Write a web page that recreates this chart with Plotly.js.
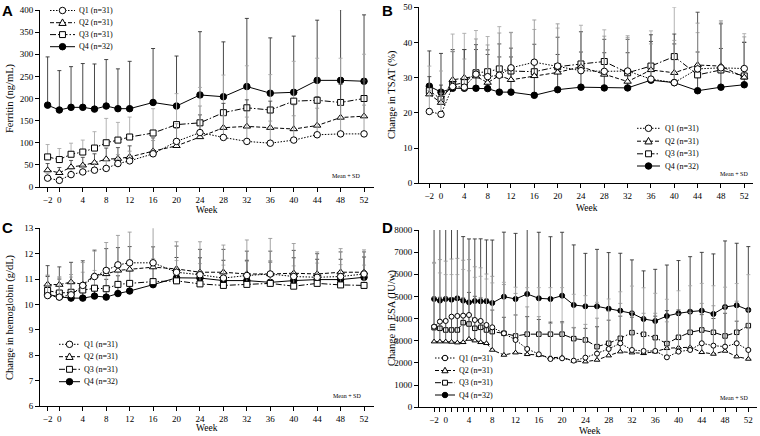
<!DOCTYPE html>
<html><head><meta charset="utf-8">
<script src="https://cdn.plot.ly/plotly-3.0.1.min.js"></script>
<style>html,body{margin:0;padding:0;background:#fff}#chart{width:760px;height:436px}</style>
</head><body><div id="chart"></div>
<script>
// ---------- data ----------
const weeks = [-2,0,2,4,6,8,10,12,16,20,24,28,32,36,40,44,48,52];
const weeksESA = [-2,-1,0,1,2,3,4,5,6,7,8,10,12,14,16,18,20,22,24,26,28,30,32,34,36,38,40,42,44,46,48,50,52];
const seriesNames = ['Q1 (n=31)','Q2 (n=31)','Q3 (n=31)','Q4 (n=32)'];

const ferritinQ1 = [20,15,28,34,38,42,53,59,75,103,123,112,103,99,106,118,120,120];
const ferritinQ2 = [38,32,45,49,55,63,64,68,81,93,113,134,137,134,131,139,157,160];
const ferritinQ3 = [68,62,74,79,88,100,106,113,122,141,145,168,179,174,194,196,191,200];
const ferritinQ4 = [185,174,180,180,176,183,177,177,191,183,208,204,227,212,214,241,241,239];
const ferritinSdQ1 = [10,8,12,15,15,18,20,22,30,40,60,50,55,50,55,60,65,65];
const ferritinSdQ2 = [15,12,15,18,20,25,25,25,30,40,50,55,60,60,55,65,75,80];
const ferritinSdQ3 = [28,25,25,27,37,55,40,45,55,70,80,85,95,80,90,95,100,100];
const ferritinSdQ4 = [109,89,92,99,102,105,90,107,122,113,143,124,154,125,127,136,160,150];

const tsatQ1 = [20.4,19.6,27.5,27.3,31,30.3,30.7,32.8,34.4,33.3,32.0,31.8,31.9,29.6,28.6,32.5,32.8,32.6];
const tsatQ2 = [25.3,22.9,29.4,30,30.4,28.6,30.6,29.4,30.5,31.5,33.1,30.9,28.9,32.2,31.4,33.6,33.3,30.1];
const tsatQ3 = [26.3,23.9,27.9,28.6,31.4,31.7,32.5,31.9,31.7,33.1,33.9,34.6,31.4,33.3,36,30.8,32.2,30.5];
const tsatQ4 = [27.6,25.9,27,27,27,26.9,25.9,25.9,25,26.6,27.3,27.1,27.1,29.3,28.6,26.3,27.3,28];
const tsatSdQ1 = [6,6,10,8,10,9,12,10,12,12,11,10,10,10,12,13,13,9];
const tsatSdQ2 = [5,5,8,8,9,8,9,9,9,10,10,10,12,10,11,15,12,10];
const tsatSdQ3 = [7,8,14.5,14,12,10,12,11,12,11,11,9,10,10,14,12,14,12];
const tsatSdQ4 = [10,11,11,11,11,11,10,10,10,10,10,10,10,11,11,11,11,12];

const hbQ1 = [10.35,10.29,10.38,10.75,11.1,11.34,11.56,11.64,11.64,11.27,11.17,11.04,11.14,11.2,11.1,11.07,11.1,11.2];
const hbQ2 = [10.79,10.78,10.88,10.79,11.14,11.2,11.34,11.38,11.47,11.40,11.27,11.27,11.2,11.2,11.23,11.2,11.27,11.27];
const hbQ3 = [10.55,10.45,10.48,10.57,10.64,10.62,10.79,10.83,10.9,10.93,10.81,10.75,10.79,10.83,10.72,10.83,10.77,10.75];
const hbQ4 = [10.4,10.3,10.25,10.25,10.33,10.29,10.43,10.53,10.78,11.05,11.04,10.94,10.94,10.87,10.94,10.98,10.98,11.07];
const hbSdQ1 = [0.8,0.8,0.8,0.9,1.0,1.1,1.16,1.21,1.47,1.2,1.3,1.3,1.4,1.4,1.3,1.0,1.1,0.95];
const hbSdQ2 = [0.74,0.7,0.78,0.93,1.0,1.0,0.9,0.9,0.8,0.9,0.9,0.9,0.9,0.9,0.9,0.8,0.8,0.8];
const hbSdQ3 = [0.6,0.6,0.6,0.7,0.7,0.7,0.8,0.8,0.9,0.8,0.8,0.8,0.9,0.9,0.8,0.8,0.8,0.8];
const hbSdQ4 = [0.7,0.7,0.6,0.6,0.7,0.7,0.7,0.8,0.9,0.8,0.8,0.8,0.8,0.8,0.9,0.8,0.8,0.8];

const esaQ1 = [3639,3865,3895,4090,4120,4135,4165,3940,3895,3714,3609,3338,3038,2632,2391,2180,2211,2105,2241,2421,2632,2888,2587,2542,2542,2256,2512,2587,2888,2782,2737,2888,2587];
const esaQ2 = [2963,2963,2963,2948,2918,2933,3083,3008,2933,2888,2587,2361,2466,2391,2361,2241,2256,2090,2060,2135,2331,2512,2466,2436,2512,2662,2692,2707,2482,2406,2542,2286,2181];
const esaQ3 = [3594,3564,3489,3489,3489,3820,3760,3564,3609,3489,3414,3338,3218,3300,3300,3300,3300,3098,3038,2737,2888,3113,3369,3294,3143,2873,3158,3384,3489,3384,3219,3384,3685];
const esaQ4 = [4887,4812,4887,4857,4917,4812,4737,4797,4782,4782,4707,4992,4887,5113,4917,4887,5037,4617,4556,4556,4451,4361,4241,3985,3895,4120,4241,4316,4361,4211,4526,4602,4391];
const esaSdQ1 = [2900,2800,2700,2600,2600,2500,2500,2400,2400,2300,2300,2200,2100,1900,1700,1600,1600,1500,1500,1600,1700,1800,1700,1700,1700,1600,1700,1700,1800,1800,1800,1900,1800];
const esaSdQ2 = [2000,2000,2000,2000,2000,2000,2100,2000,2000,2000,1800,1700,1700,1700,1600,1600,1600,1500,1500,1500,1600,1600,1600,1600,1600,1700,1700,1700,1700,1600,1700,1600,1600];
const esaSdQ3 = [2900,2500,2500,2500,2500,2400,2400,2300,2300,2300,2200,2300,2200,2100,2100,2100,2100,2000,2000,2000,2000,2100,2100,2100,2000,2000,2100,2100,2100,2100,2200,2200,2300];
const esaSdQ4 = [3363,3240,3210,3190,3130,2890,2860,2800,2820,2770,2840,2910,2960,3190,2980,2810,2860,2710,2390,2570,2530,2590,2410,2170,2330,2300,2380,2480,2630,2710,2980,2800,2860];

const weekTickVals = [-2,0,4,8,12,16,20,24,28,32,36,40,44,48,52];
const weekTickText = ['\u22122','0','4','8','12','16','20','24','28','32','36','40','44','48','52'];
const esaWeekTickVals = weeksESA;
const esaWeekTickText = weeksESA.map(w => weekTickVals.includes(w) ? (w < 0 ? '\u2212' + (-w) : String(w)) : '');

// ---------- styles ----------
const W = 760, H = 436;
const px = x => x / W, py = y => 1 - y / H;
const SERIF = 'Liberation Serif, Times New Roman, serif';
const styles = [
  {dash:'1.5px,1.5px', symbol:'circle', fill:'#fff', ebColor:'#9a9a9a'},
  {dash:'4px,2px', symbol:'triangle-up', fill:'#fff', ebColor:'#444'},
  {dash:'6px,2px,1.5px,2px', symbol:'square', fill:'#fff', ebColor:'#aaa'},
  {dash:'solid', symbol:'circle', fill:'#000', ebColor:'#333'}
];

const traces = [];
function addPanel(xa, ya, x, ys, sds, msize) {
  [3,2,1,0].forEach(i => {
    const st = styles[i];
    traces.push({
      type:'scatter', mode:'lines+markers', x:x, y:ys[i], xaxis:xa, yaxis:ya,
      name: seriesNames[i], showlegend:false, cliponaxis:false,
      line:{color:'#000', width:1, dash:st.dash},
      marker:{symbol:st.symbol, size: st.symbol==='square' ? msize-0.5 : msize, color:st.fill, line:{color:'#000', width:1}},
      error_y:{type:'data', symmetric:false, array:sds[i], arrayminus:sds[i].map(()=>0),
               color:st.ebColor, thickness:0.9, width:2}
    });
  });
}
addPanel('x','y', weeks, [ferritinQ1,ferritinQ2,ferritinQ3,ferritinQ4], [ferritinSdQ1,ferritinSdQ2,ferritinSdQ3,ferritinSdQ4], 6.5);
addPanel('x2','y2', weeks, [tsatQ1,tsatQ2,tsatQ3,tsatQ4], [tsatSdQ1,tsatSdQ2,tsatSdQ3,tsatSdQ4], 6.5);
addPanel('x3','y3', weeks, [hbQ1,hbQ2,hbQ3,hbQ4], [hbSdQ1,hbSdQ2,hbSdQ3,hbSdQ4], 6.5);
addPanel('x4','y4', weeksESA, [esaQ1,esaQ2,esaQ3,esaQ4], [esaSdQ1,esaSdQ2,esaSdQ3,esaSdQ4], 5);

const tickFont = {family:SERIF, size:9, color:'#000'};
function xAxis(domain, range, anchor, vals, text) {
  return {domain:domain, range:range, anchor:anchor, tickmode:'array', tickvals:vals, ticktext:text,
    ticks:'outside', ticklen:4, tickwidth:1, tickcolor:'#000', showline:true, linecolor:'#000', linewidth:1,
    showgrid:false, zeroline:false, tickfont:tickFont, fixedrange:true};
}
function yAxis(domain, range, anchor, dtick) {
  return {domain:domain, range:range, anchor:anchor, tick0:range[0], dtick:dtick,
    ticks:'outside', ticklen:4, tickwidth:1, tickcolor:'#000', showline:true, linecolor:'#000', linewidth:1,
    showgrid:false, zeroline:false, tickfont:tickFont, fixedrange:true};
}

const shapes = [], annotations = [];
function addLegend(x0, x1, xt, ys, ms) {
  styles.forEach((st, i) => {
    const y = ys[i], xc = (x0 + x1) / 2, r = ms / 2;
    shapes.push({type:'line', xref:'paper', yref:'paper', x0:px(x0), x1:px(x1), y0:py(y), y1:py(y),
      line:{color:'#000', width:1, dash:st.dash}});
    if (st.symbol === 'circle') {
      shapes.push({type:'circle', xref:'paper', yref:'paper', x0:px(xc-r), x1:px(xc+r), y0:py(y+r), y1:py(y-r),
        fillcolor:st.fill, line:{color:'#000', width:1}});
    } else if (st.symbol === 'square') {
      shapes.push({type:'rect', xref:'paper', yref:'paper', x0:px(xc-r+0.3), x1:px(xc+r-0.3), y0:py(y+r-0.3), y1:py(y-r+0.3),
        fillcolor:st.fill, line:{color:'#000', width:1}});
    } else {
      const p = 'M' + px(xc) + ',' + py(y-r-0.5) + ' L' + px(xc+r+0.4) + ',' + py(y+r-0.5) + ' L' + px(xc-r-0.4) + ',' + py(y+r-0.5) + ' Z';
      shapes.push({type:'path', xref:'paper', yref:'paper', path:p, fillcolor:st.fill, line:{color:'#000', width:1}});
    }
    annotations.push({xref:'paper', yref:'paper', x:px(xt), y:py(y), xanchor:'left', yanchor:'middle',
      text:seriesNames[i], showarrow:false, font:{family:SERIF, size:8, color:'#000'}});
  });
}
addLegend(50, 75, 77, [10.5, 22.7, 34.6, 46.7], 6.5);
addLegend(637, 660, 663, [128.3, 141.2, 153.8, 166], 6.5);
addLegend(59, 80, 82, [344.3, 356.7, 369.3, 381.7], 6.5);
addLegend(435, 455, 457, [358, 370.5, 382.7, 395], 5.5);

function note(x, y, text) {
  annotations.push({xref:'paper', yref:'paper', x:px(x), y:py(y), xanchor:'right', yanchor:'middle',
    text:text, showarrow:false, font:{family:SERIF, size:6, color:'#000'}});
}
note(362, 176, 'Mean + SD'); note(750, 174, 'Mean + SD'); note(363, 396, 'Mean + SD'); note(750, 397.5, 'Mean + SD');

function letter(x, y, t) {
  annotations.push({xref:'paper', yref:'paper', x:px(x), y:py(y), xanchor:'left', yanchor:'middle',
    text:'<b>'+t+'</b>', showarrow:false, font:{family:'Liberation Sans, Arial, sans-serif', size:15, color:'#000'}});
}
letter(0, 10.5, 'A'); letter(380, 10.5, 'B'); letter(0, 227, 'C'); letter(380, 227, 'D');

function ytitle(x, y, t) {
  annotations.push({xref:'paper', yref:'paper', x:px(x), y:py(y), xanchor:'center', yanchor:'middle', textangle:-90,
    text:t, showarrow:false, font:{family:SERIF, size:10.5, color:'#000'}});
}
ytitle(10, 98, 'Ferritin (ng/mL)'); ytitle(392, 95, 'Change in TSAT (%)');
ytitle(10, 317, 'Change in hemoglobin (g/dL)'); ytitle(392, 318, 'Change in ESA (IU/w)');
function xtitle(x, y) {
  annotations.push({xref:'paper', yref:'paper', x:px(x), y:py(y), xanchor:'center', yanchor:'middle',
    text:'Week', showarrow:false, font:{family:SERIF, size:9.5, color:'#000'}});
}
xtitle(207, 210); xtitle(587, 207.5); xtitle(207, 428); xtitle(590, 430.5);

const layout = {
  width:W, height:H, margin:{l:0, r:0, t:0, b:0}, paper_bgcolor:'#fff', plot_bgcolor:'rgba(0,0,0,0)',
  showlegend:false, font:{family:SERIF, color:'#000'},
  xaxis: xAxis([px(40), px(374)], [-3.3, 53.7], 'y', weekTickVals, weekTickText),
  yaxis: yAxis([py(187), py(10)], [0, 400], 'x', 50),
  xaxis2: xAxis([px(419), px(753)], [-3.77, 53.5], 'y2', weekTickVals, weekTickText),
  yaxis2: yAxis([py(183.3), py(7.3)], [0, 50], 'x2', 10),
  xaxis3: xAxis([px(40), px(374)], [-3.3, 53.7], 'y3', weekTickVals, weekTickText),
  yaxis3: yAxis([py(406), py(228.3)], [6, 13], 'x3', 1),
  xaxis4: xAxis([px(419), px(757)], [-4.59, 53.49], 'y4', esaWeekTickVals, esaWeekTickText),
  yaxis4: yAxis([py(407.3), py(230)], [0, 8000], 'x4', 1000),
  shapes: shapes, annotations: annotations
};
Plotly.newPlot('chart', traces, layout, {staticPlot:true, displayModeBar:false});
</script></body></html>
